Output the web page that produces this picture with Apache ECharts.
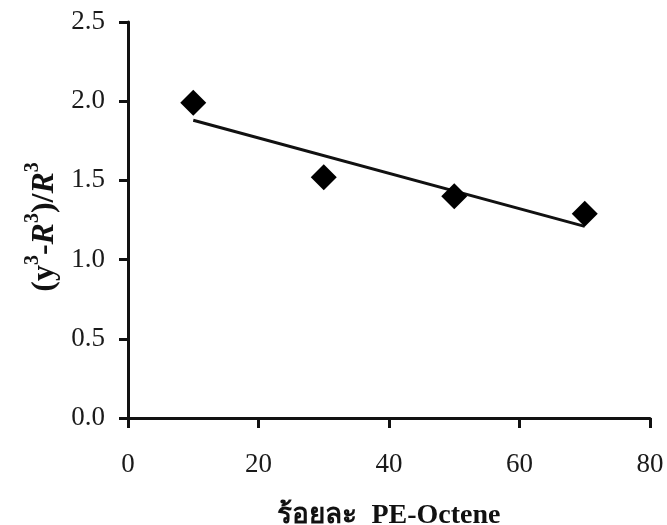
<!DOCTYPE html>
<html><head><meta charset="utf-8">
<script src="https://cdn.jsdelivr.net/npm/echarts@6/dist/echarts.min.js"></script>
<style>html,body{margin:0;padding:0;background:#fff}#c{width:667px;height:525px}</style>
</head><body><div id="c"></div>
<script>
var xValues = [10, 30, 50, 70];
var yValues = [1.99, 1.52, 1.40, 1.29];
var trendX = [10, 70];
var trendY = [1.88, 1.21];
var xTicks = [0, 20, 40, 60, 80];
var yTicks = [0.0, 0.5, 1.0, 1.5, 2.0, 2.5];

var pts = xValues.map(function (x, i) { return [x, yValues[i]]; });
var trend = trendX.map(function (x, i) { return [x, trendY[i]]; });
var serif = '"Liberation Serif", "Times New Roman", serif';

var chart = echarts.init(document.getElementById('c'));
chart.setOption({
  backgroundColor: '#fff',
  animation: false,
  grid: { left: 128, right: 17, top: 22, bottom: 107, containLabel: false, outerBoundsMode: 'none' },
  xAxis: {
    type: 'value', min: 0, max: 80, interval: 20,
    name: 'ร้อยละ  PE-Octene', nameLocation: 'middle', nameGap: 84,
    nameTextStyle: { fontFamily: serif, fontWeight: 'bold', fontSize: 28, color: '#111' },
    axisLine: { show: true, lineStyle: { color: '#111', width: 3 } },
    axisTick: { show: true, inside: false, length: 10, lineStyle: { color: '#111', width: 3 } },
    axisLabel: { margin: 33, fontFamily: serif, fontSize: 27, color: '#1a1a1a',
      formatter: function (v) { return xTicks.indexOf(v) >= 0 ? String(v) : ''; } },
    splitLine: { show: false }
  },
  yAxis: {
    type: 'value', min: 0, max: 2.5, interval: 0.5,
    name: '{b|(y}{sup|3}{b|-}{bi|R}{sup|3}{b|)/}{bi|R}{sup|3}',
    nameLocation: 'middle', nameGap: 64, nameRotate: 90,
    nameTextStyle: {
      fontFamily: serif, fontSize: 32, color: '#111', padding: [0, 14, 0, 0],
      rich: {
        b: { fontFamily: serif, fontWeight: 'bold', fontSize: 32, color: '#111', lineHeight: 38, verticalAlign: 'bottom' },
        bi: { fontFamily: serif, fontWeight: 'bold', fontStyle: 'italic', fontSize: 32, color: '#111', lineHeight: 38, verticalAlign: 'bottom' },
        sup: { fontFamily: serif, fontWeight: 'bold', fontSize: 20, color: '#111', lineHeight: 38, verticalAlign: 'top' }
      }
    },
    axisLine: { show: true, lineStyle: { color: '#111', width: 3 } },
    axisTick: { show: true, inside: false, length: 9, lineStyle: { color: '#111', width: 3 } },
    axisLabel: { margin: 23, fontFamily: serif, fontSize: 27, color: '#1a1a1a',
      formatter: function (v) {
        var t = yTicks.filter(function (k) { return Math.abs(k - v) < 1e-9; });
        return t.length ? t[0].toFixed(1) : '';
      } },
    splitLine: { show: false }
  },
  series: [
    {
      type: 'line', data: trend, symbol: 'none', z: 2,
      lineStyle: { color: '#111', width: 3 }
    },
    {
      type: 'scatter', data: pts, symbol: 'diamond', symbolSize: 26, z: 3,
      itemStyle: { color: '#000', opacity: 1 }
    }
  ]
});
</script></body></html>
